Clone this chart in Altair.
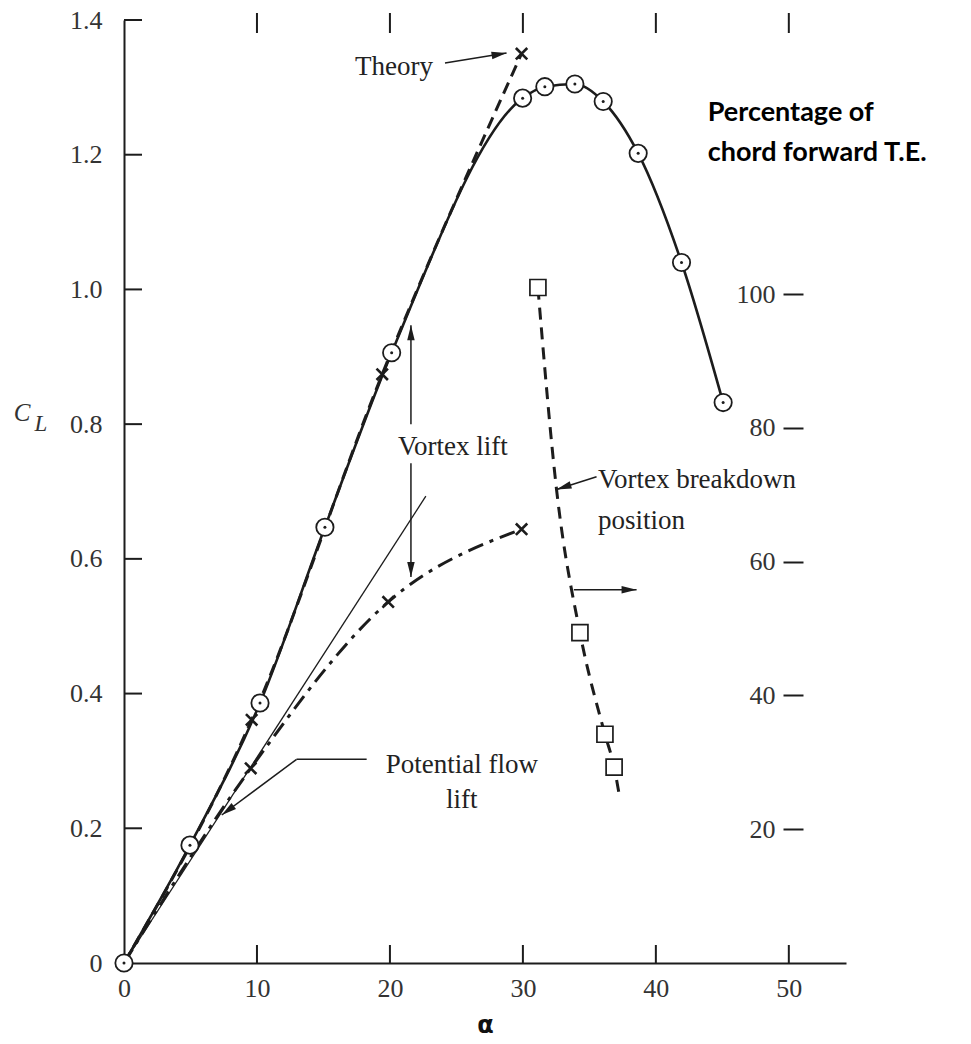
import math
import altair as alt
import pandas as pd

# ---------------- data ----------------
# Experimental C_L (solid line, circle-dot markers)
exp_alpha = [0, 4.96, 10.23, 15.11, 20.13, 29.98, 31.65, 33.91, 36.04, 38.67, 41.93, 45.06]
exp_cl = [0, 0.175, 0.386, 0.647, 0.906, 1.284, 1.301, 1.305, 1.279, 1.202, 1.040, 0.832]

# Theory (dashed, x markers)
theory_alpha = [0, 9.6, 19.42, 29.9]
theory_cl = [0, 0.361, 0.874, 1.350]

# Potential flow lift (dash-dot, x markers)
pot_alpha = [0, 9.53, 19.87, 29.9]
pot_cl = [0, 0.289, 0.536, 0.644]

# Thin initial-slope line
tan_alpha = [0, 22.7]
tan_cl = [0, 0.693]

# Vortex breakdown position (% chord forward of T.E., right axis)
vb_alpha = [31.13, 34.29, 36.17, 36.86]
vb_pct = [101.0, 49.4, 34.2, 29.3]
vb_line_alpha = [31.13, 32.53, 34.29, 36.17, 36.86, 37.29]
vb_line_pct = [101.0, 70.8, 49.4, 34.2, 29.3, 24.6]

# axis ticks
x_labels = [0, 10, 20, 30, 40, 50]
x_ticks = [10, 20, 30, 40, 50]
y_labels = [0, 0.2, 0.4, 0.6, 0.8, 1.0, 1.2, 1.4]
y_ticks = [0.2, 0.4, 0.6, 0.8, 1.0, 1.2, 1.4]
r_labels = [20, 40, 60, 80, 100]

# annotation texts (alpha, C_L)
txt_t = ["Vortex lift", "Potential flow", "lift"]
txt_x = [24.74, 25.41, 25.41]
txt_y = [0.766, 0.294, 0.242]
ltxt_t = ["Vortex breakdown", "position"]
ltxt_x = [35.64, 35.64]
ltxt_y = [0.717, 0.656]

# arrows / leader segments: (x1, y1, x2, y2, head at end?)
seg_x1 = [24.14, 21.58, 21.58, 35.54, 33.83, 18.25, 12.98]
seg_y1 = [1.336, 0.800, 0.742, 0.722, 0.554, 0.3024, 0.3024]
seg_x2 = [28.77, 21.58, 21.58, 32.53, 38.55, 12.98, 7.35]
seg_y2 = [1.351, 0.947, 0.573, 0.703, 0.554, 0.3024, 0.2197]
seg_head = [True, True, True, True, True, False, True]

# ---------------- layout ----------------
W, H = 722, 943
X_MAX, Y_MAX, R_MAX = 54.3, 1.4, 141.0
KX, KY = W / X_MAX, H / Y_MAX
INK = "#1c1c1c"
SERIF = "Liberation Serif"

xs = alt.Scale(domain=[0, X_MAX], nice=False, zero=False)
ys = alt.Scale(domain=[0, Y_MAX], nice=False, zero=False)
rs = alt.Scale(domain=[0, R_MAX], nice=False, zero=False)

x_axis = alt.Axis(values=x_labels, ticks=False, domain=True, domainColor=INK, domainWidth=2,
                  labelFont=SERIF, labelFontSize=26, labelColor="#333", labelPadding=12,
                  labelFlush=False, grid=False, title="α", titleFont="DejaVu Sans",
                  titleFontWeight="bold", titleFontSize=24, titleColor="#111", titlePadding=12)
y_axis = alt.Axis(values=y_labels, ticks=False, domain=True, domainColor=INK, domainWidth=2,
                  labelFont=SERIF, labelFontSize=26, labelColor="#333", labelPadding=22,
                  labelFlush=False, grid=False, title=None,
                  labelExpr="datum.value == 0 ? '0' : format(datum.value, '.1f')")
r_axis = alt.Axis(orient="left", offset=-(803 - 124), values=r_labels, domain=False,
                  ticks=True, tickSize=20, tickWidth=2, tickColor=INK, labelFont=SERIF,
                  labelFontSize=26, labelColor="#333", labelPadding=8, grid=False, title=None)


def X(f="a"):
    return alt.X(f"{f}:Q", scale=xs, axis=x_axis)


def Y(f="cl"):
    return alt.Y(f"{f}:Q", scale=ys, axis=y_axis)


def R(f="r"):
    return alt.Y(f"{f}:Q", scale=rs, axis=r_axis)


exp_df = pd.DataFrame({"a": exp_alpha, "cl": exp_cl})
th_df = pd.DataFrame({"a": theory_alpha, "cl": theory_cl})
pot_df = pd.DataFrame({"a": pot_alpha, "cl": pot_cl})
tan_df = pd.DataFrame({"a": tan_alpha, "cl": tan_cl})
vb_df = pd.DataFrame({"a": vb_alpha, "r": vb_pct})
vbl_df = pd.DataFrame({"a": vb_line_alpha, "r": vb_line_pct})

exp_line = alt.Chart(exp_df).mark_line(color=INK, strokeWidth=2.6, interpolate="monotone").encode(
    x=X(), y=Y())
th_line = alt.Chart(th_df).mark_line(color=INK, strokeWidth=3, strokeDash=[12, 7],
                                     interpolate="monotone").encode(x=X(), y=Y())
pot_line = alt.Chart(pot_df).mark_line(color=INK, strokeWidth=3, strokeDash=[16, 7, 4, 7],
                                       interpolate="monotone").encode(x=X(), y=Y())
tan_line = alt.Chart(tan_df).mark_line(color=INK, strokeWidth=1.3).encode(x=X(), y=Y())

# inward / top ticks
bt = alt.Chart(pd.DataFrame({"a": x_ticks})).mark_rule(color=INK, strokeWidth=2).encode(
    x=X(), y=alt.value(H - 18), y2=alt.value(H))
tt = alt.Chart(pd.DataFrame({"a": x_ticks})).mark_rule(color=INK, strokeWidth=2).encode(
    x=X(), y=alt.value(-7), y2=alt.value(13))
lt = alt.Chart(pd.DataFrame({"cl": y_ticks})).mark_rule(color=INK, strokeWidth=2).encode(
    y=Y(), x=alt.value(0), x2=alt.value(18))

# annotation segments and arrowheads
seg_df = pd.DataFrame({"a": seg_x1, "cl": seg_y1, "a2": seg_x2, "cl2": seg_y2})
segs = alt.Chart(seg_df).mark_rule(color=INK, strokeWidth=1.5).encode(
    x=X(), y=Y(), x2="a2:Q", y2="cl2:Q")

heads = []
for x1, y1, x2, y2, h in zip(seg_x1, seg_y1, seg_x2, seg_y2, seg_head):
    if h:
        ang = math.degrees(math.atan2(-(y2 - y1) * KY, (x2 - x1) * KX)) % 360
        heads.append({"a": x2, "cl": y2, "ang": ang})
ARROW = "M0,0L-2,-0.5L-2,0.5Z"
head_layer = alt.Chart(pd.DataFrame(heads)).mark_point(
    shape=ARROW, filled=True, size=225, color=INK, opacity=1).encode(
    x=X(), y=Y(), angle=alt.Angle("ang:Q", scale=None))

# markers
XMARK = "M-1,-1L1,1M-1,1L1,-1"
xm_df = pd.concat([th_df.iloc[1:], pot_df.iloc[1:]])
xmarks = alt.Chart(xm_df).mark_point(shape=XMARK, filled=False, size=130, strokeWidth=2.6,
                                     color=INK, opacity=1).encode(x=X(), y=Y())
circ = alt.Chart(exp_df).mark_circle(size=300, fill="white", stroke=INK, strokeWidth=1.8,
                                     opacity=1).encode(x=X(), y=Y())
dots = alt.Chart(exp_df).mark_circle(size=9, color=INK, opacity=1).encode(x=X(), y=Y())

# texts
tdf = pd.DataFrame({"a": txt_x, "cl": txt_y, "t": txt_t})
texts_c = alt.Chart(tdf).mark_text(font=SERIF, fontSize=27, color="#222", align="center",
                                   baseline="middle").encode(x=X(), y=Y(), text="t:N")
ldf = pd.DataFrame({"a": ltxt_x, "cl": ltxt_y, "t": ltxt_t})
texts_l = alt.Chart(ldf).mark_text(font=SERIF, fontSize=27, color="#222", align="left",
                                   baseline="middle").encode(x=X(), y=Y(), text="t:N")
theory_txt = alt.Chart(pd.DataFrame({"a": [23.23], "cl": [1.330], "t": ["Theory"]})).mark_text(
    font=SERIF, fontSize=27, color="#222", align="right", baseline="middle").encode(
    x=X(), y=Y(), text="t:N")
pct_txt = alt.Chart(pd.DataFrame({"a": [43.9, 43.9], "cl": [1.262, 1.2025],
                                  "t": ["Percentage of", "chord forward T.E."]})).mark_text(
    font="Lato", fontWeight="bold", fontSize=27, color="#000", align="left",
    baseline="middle").encode(x=X(), y=Y(), text="t:N")
c_txt = alt.Chart(pd.DataFrame({"t": ["C"]})).mark_text(
    font=SERIF, fontStyle="italic", fontSize=25, color="#333", align="center",
    baseline="middle").encode(x=alt.value(-102), y=alt.value(393), text="t:N")
l_txt = alt.Chart(pd.DataFrame({"t": ["L"]})).mark_text(
    font=SERIF, fontStyle="italic", fontSize=23, color="#333", align="center",
    baseline="middle").encode(x=alt.value(-83), y=alt.value(404), text="t:N")

cl_layer = alt.layer(exp_line, bt, tt, lt, tan_line, th_line, pot_line, segs, head_layer,
                     xmarks, circ, dots, texts_c, texts_l, theory_txt, pct_txt, c_txt, l_txt)

vb_line = alt.Chart(vbl_df).mark_line(color=INK, strokeWidth=3, strokeDash=[12, 8],
                                      interpolate="monotone").encode(x=X(), y=R())
vb_sq = alt.Chart(vb_df).mark_square(size=256, fill="white", stroke=INK, strokeWidth=1.7,
                                     opacity=1).encode(x=X(), y=R())
vb_layer = alt.layer(vb_line, vb_sq)

chart = alt.layer(cl_layer, vb_layer).resolve_scale(y="independent").properties(
    width=W, height=H,
    padding={"left": 124, "top": 20, "right": 971 - 124 - W, "bottom": 1044 - 20 - H},
    autosize=alt.AutoSizeParams(type="none"),
    background="white",
).configure_view(stroke=None)

chart.save("out.html", embed_options={"renderer": "svg", "actions": False})
